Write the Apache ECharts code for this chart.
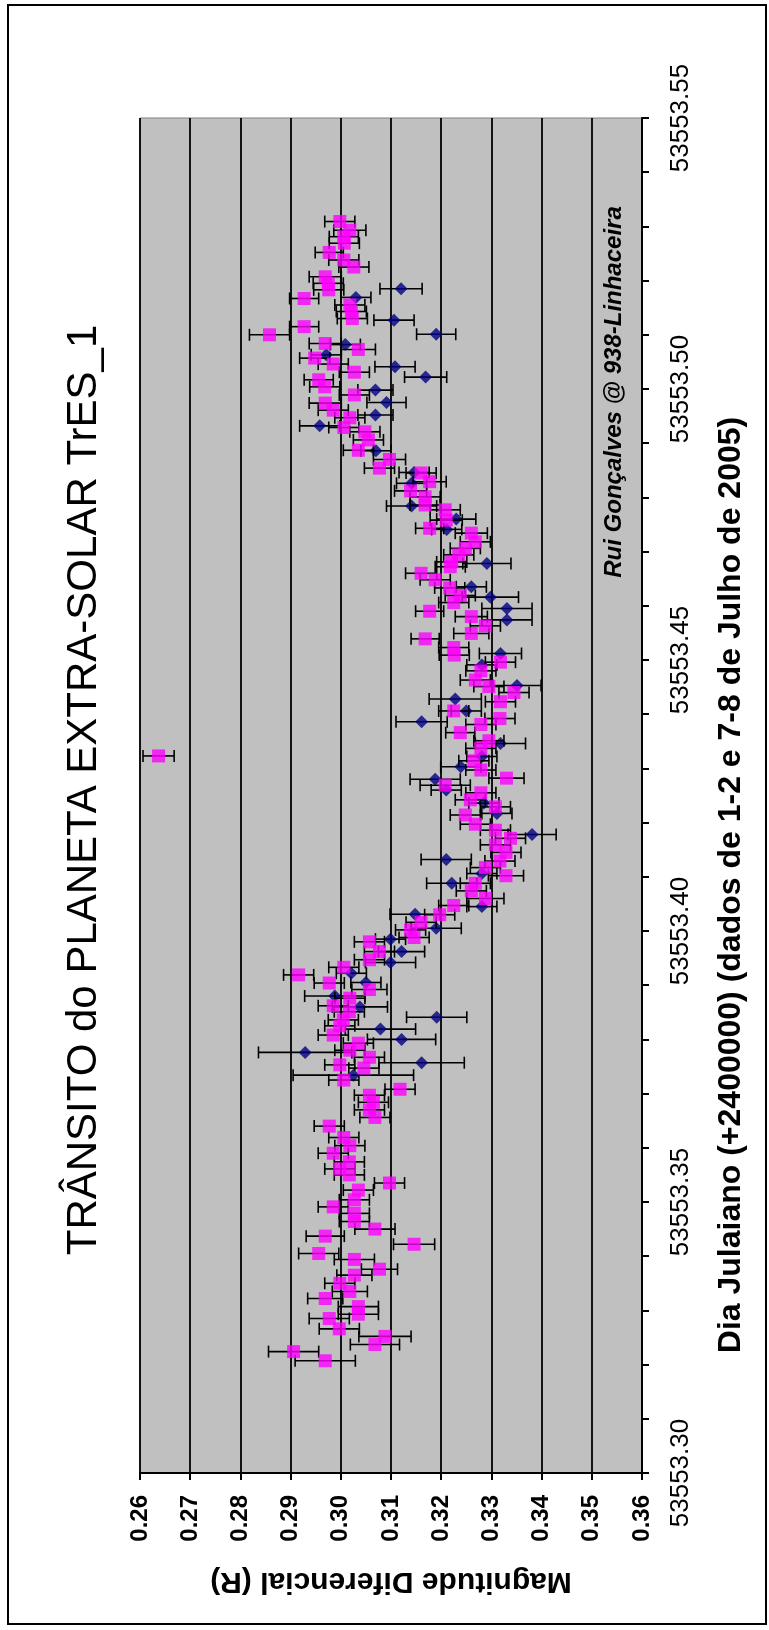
<!DOCTYPE html>
<html>
<head>
<meta charset="utf-8">
<title>Trânsito TrES-1</title>
<script src="https://cdn.jsdelivr.net/npm/echarts@6/dist/echarts.min.js"></script>
<style>
  html, body { margin: 0; padding: 0; background: #fff; }
  #chart { width: 769px; height: 1630px; }
</style>
</head>
<body>
<div id="chart"></div>
<script>
// dia juliano (+2400000) e magnitude diferencial, serie rosa (quadrados)
const pinkDay = [53553.5309, 53553.5293, 53553.5281, 53553.5269, 53553.5252, 53553.5238, 53553.5225, 53553.5207, 53553.5195, 53553.5183,
  53553.5167, 53553.5155, 53553.5143, 53553.5130, 53553.5115, 53553.5100, 53553.5084, 53553.5073, 53553.5057, 53553.5046,
  53553.5031, 53553.5017, 53553.5004, 53553.4989, 53553.4974, 53553.4961, 53553.4947, 53553.4929, 53553.4921, 53553.4906,
  53553.4887, 53553.4870, 53553.4854, 53553.4845, 53553.4829, 53553.4812, 53553.4801, 53553.4786, 53553.4777, 53553.4758,
  53553.4743, 53553.4734, 53553.4718, 53553.4706, 53553.4694, 53553.4681, 53553.4672, 53553.4660, 53553.4648, 53553.4633,
  53553.4619, 53553.4606, 53553.4590, 53553.4580, 53553.4563, 53553.4549, 53553.4539, 53553.4523, 53553.4509, 53553.4496,
  53553.4480, 53553.4463, 53553.4451, 53553.4440, 53553.4423, 53553.4406, 53553.4392, 53553.4381, 53553.4366, 53553.4351,
  53553.4337, 53553.4323, 53553.4314, 53553.4297, 53553.4282, 53553.4269, 53553.4255, 53553.4242, 53553.4229, 53553.4214,
  53553.4197, 53553.4186, 53553.4171, 53553.4159, 53553.4145, 53553.4129, 53553.4117, 53553.4102, 53553.4088, 53553.4074,
  53553.4060, 53553.4047, 53553.4030, 53553.4016, 53553.4002, 53553.3988, 53553.3980, 53553.3962, 53553.3947, 53553.3933,
  53553.3919, 53553.3904, 53553.3892, 53553.3876, 53553.3862, 53553.3851, 53553.3836, 53553.3825, 53553.3808, 53553.3793,
  53553.3780, 53553.3767, 53553.3753, 53553.3747, 53553.3725, 53553.3708, 53553.3697, 53553.3684, 53553.3670, 53553.3656,
  53553.3640, 53553.3619, 53553.3604, 53553.3590, 53553.3574, 53553.3561, 53553.3550, 53553.3535, 53553.3522, 53553.3504,
  53553.3491, 53553.3479, 53553.3464, 53553.3450, 53553.3437, 53553.3422, 53553.3405, 53553.3394, 53553.3376, 53553.3365,
  53553.3350, 53553.3335, 53553.3322, 53553.3307, 53553.3293, 53553.3285, 53553.3266, 53553.3252, 53553.3237, 53553.3224,
  53553.3207];
const pinkMag = [0.2998, 0.3018, 0.3006, 0.3007, 0.2977, 0.3006, 0.3026, 0.2969, 0.2975, 0.2976,
  0.2927, 0.3018, 0.3021, 0.3023, 0.2927, 0.2858, 0.2969, 0.3035, 0.2948, 0.2985,
  0.3027, 0.2956, 0.2968, 0.3027, 0.2969, 0.2985, 0.3018, 0.3006, 0.3048, 0.3055,
  0.3035, 0.3097, 0.3077, 0.3160, 0.3177, 0.3139, 0.3168, 0.3168, 0.3208, 0.3210,
  0.3177, 0.3260, 0.3268, 0.3248, 0.3235, 0.3221, 0.3218, 0.3160, 0.3188, 0.3217,
  0.3238, 0.3225, 0.3177, 0.3260, 0.3288, 0.3260, 0.3168, 0.3225, 0.3226, 0.3318,
  0.3279, 0.3268, 0.3295, 0.3345, 0.3318, 0.3225, 0.3317, 0.3279, 0.3238, 0.3295,
  0.3279, 0.2637, 0.3265, 0.3279, 0.3330, 0.3208, 0.3279, 0.3258, 0.3308, 0.3248,
  0.3268, 0.3308, 0.3338, 0.3308, 0.3329, 0.3317, 0.3288, 0.3329, 0.3268, 0.3260,
  0.3288, 0.3225, 0.3197, 0.3160, 0.3139, 0.3146, 0.3057, 0.3077, 0.3057, 0.3006,
  0.2916, 0.2977, 0.3057, 0.3018, 0.2985, 0.3017, 0.3005, 0.2998, 0.2985, 0.3035,
  0.3018, 0.3057, 0.2998, 0.3046, 0.3006, 0.3118, 0.3057, 0.3065, 0.3057, 0.3068,
  0.2977, 0.3006, 0.3018, 0.2985, 0.3017, 0.2998, 0.3017, 0.3097, 0.3035, 0.3027,
  0.2985, 0.3027, 0.3027, 0.3068, 0.2969, 0.3146, 0.2956, 0.3027, 0.3077, 0.3027,
  0.2998, 0.3018, 0.2969, 0.3035, 0.3035, 0.2977, 0.2997, 0.3088, 0.3068, 0.2906,
  0.2969];
const pinkErr = [0.0030, 0.0032, 0.0029, 0.0030, 0.0028, 0.0030, 0.0030, 0.0032, 0.0030, 0.0030,
  0.0029, 0.0030, 0.0030, 0.0030, 0.0029, 0.0040, 0.0032, 0.0034, 0.0030, 0.0030,
  0.0030, 0.0029, 0.0030, 0.0030, 0.0032, 0.0030, 0.0030, 0.0030, 0.0030, 0.0030,
  0.0030, 0.0032, 0.0030, 0.0030, 0.0033, 0.0032, 0.0030, 0.0030, 0.0030, 0.0032,
  0.0028, 0.0032, 0.0030, 0.0030, 0.0030, 0.0030, 0.0030, 0.0031, 0.0030, 0.0030,
  0.0030, 0.0030, 0.0028, 0.0032, 0.0030, 0.0035, 0.0028, 0.0030, 0.0030, 0.0030,
  0.0030, 0.0030, 0.0030, 0.0030, 0.0030, 0.0030, 0.0030, 0.0030, 0.0029, 0.0030,
  0.0030, 0.0031, 0.0030, 0.0030, 0.0035, 0.0050, 0.0030, 0.0030, 0.0030, 0.0030,
  0.0030, 0.0030, 0.0030, 0.0030, 0.0030, 0.0030, 0.0030, 0.0035, 0.0030, 0.0030,
  0.0037, 0.0030, 0.0030, 0.0030, 0.0030, 0.0030, 0.0030, 0.0030, 0.0030, 0.0030,
  0.0030, 0.0030, 0.0035, 0.0030, 0.0030, 0.0030, 0.0030, 0.0030, 0.0030, 0.0030,
  0.0030, 0.0030, 0.0030, 0.0030, 0.0030, 0.0030, 0.0030, 0.0030, 0.0030, 0.0030,
  0.0030, 0.0030, 0.0030, 0.0030, 0.0030, 0.0030, 0.0030, 0.0030, 0.0030, 0.0030,
  0.0030, 0.0030, 0.0030, 0.0040, 0.0038, 0.0041, 0.0040, 0.0040, 0.0036, 0.0035,
  0.0030, 0.0035, 0.0035, 0.0040, 0.0040, 0.0040, 0.0040, 0.0052, 0.0049, 0.0050,
  0.0060];

// serie azul (losangos)
const blueDay = [53553.5185, 53553.5169, 53553.5127, 53553.5101, 53553.5082, 53553.5063, 53553.5041, 53553.5022, 53553.4998, 53553.4975,
  53553.4952, 53553.4932, 53553.4886, 53553.4846, 53553.4826, 53553.4784, 53553.4760, 53553.4741, 53553.4678, 53553.4635,
  53553.4616, 53553.4595, 53553.4574, 53553.4512, 53553.4491, 53553.4453, 53553.4428, 53553.4406, 53553.4386, 53553.4346,
  53553.4322, 53553.4303, 53553.4280, 53553.4260, 53553.4236, 53553.4217, 53553.4178, 53553.4132, 53553.4106, 53553.4088,
  53553.4045, 53553.4031, 53553.4005, 53553.3985, 53553.3962, 53553.3942, 53553.3922, 53553.3905, 53553.3880, 53553.3860,
  53553.3841, 53553.3819, 53553.3800, 53553.3776, 53553.3757, 53553.3734];
const blueMag = [0.3120, 0.3030, 0.3106, 0.3190, 0.3009, 0.2971, 0.3108, 0.3169, 0.3069, 0.3091,
  0.3069, 0.2958, 0.3070, 0.3146, 0.3141, 0.3141, 0.3230, 0.3211, 0.3291, 0.3260,
  0.3298, 0.3331, 0.3331, 0.3318, 0.3281, 0.3351, 0.3228, 0.3250, 0.3161, 0.3318,
  0.3281, 0.3239, 0.3188, 0.3210, 0.3285, 0.3311, 0.3381, 0.3210, 0.3281, 0.3221,
  0.3281, 0.3148, 0.3190, 0.3099, 0.3121, 0.3099, 0.3021, 0.3050, 0.2988, 0.3038,
  0.3191, 0.3079, 0.3121, 0.2929, 0.3161, 0.3025];
const blueErr = [0.0042, 0.0030, 0.0040, 0.0039, 0.0030, 0.0030, 0.0040, 0.0042, 0.0035, 0.0039,
  0.0035, 0.0040, 0.0030, 0.0030, 0.0030, 0.0050, 0.0039, 0.0030, 0.0048, 0.0030,
  0.0056, 0.0050, 0.0050, 0.0042, 0.0030, 0.0048, 0.0052, 0.0030, 0.0051, 0.0050,
  0.0030, 0.0040, 0.0050, 0.0030, 0.0030, 0.0030, 0.0048, 0.0050, 0.0030, 0.0050,
  0.0030, 0.0050, 0.0050, 0.0030, 0.0046, 0.0050, 0.0030, 0.0030, 0.0060, 0.0055,
  0.0060, 0.0070, 0.0068, 0.0093, 0.0085, 0.0120];

const font = '"Liberation Sans", Arial, sans-serif';

function points(days, mags, errs) {
  return days.map((d, i) => [mags[i], d, errs[i]]);
}

// barra de erro horizontal com pequenos traços nas pontas
function errorBar(params, api) {
  const m = api.value(0), d = api.value(1), e = api.value(2);
  const lo = api.coord([m - e, d]);
  const hi = api.coord([m + e, d]);
  const cap = 6;
  const style = { stroke: '#000', lineWidth: 1.6 };
  return {
    type: 'group',
    children: [
      { type: 'line', shape: { x1: lo[0], y1: lo[1], x2: hi[0], y2: hi[1] }, style: style },
      { type: 'line', shape: { x1: lo[0], y1: lo[1] - cap, x2: lo[0], y2: lo[1] + cap }, style: style },
      { type: 'line', shape: { x1: hi[0], y1: hi[1] - cap, x2: hi[0], y2: hi[1] + cap }, style: style }
    ]
  };
}

const chart = echarts.init(document.getElementById('chart'), null, { renderer: 'canvas' });

const option = {
  animation: false,
  backgroundColor: '#fff',
  grid: {
    left: 140, top: 118, width: 502, height: 1355,
    show: true, backgroundColor: '#C0C0C0', borderColor: '#808080', borderWidth: 1,
    containLabel: false, outerBoundsMode: 'none'
  },
  xAxis: {
    type: 'value', position: 'bottom',
    min: 0.26, max: 0.36, interval: 0.01,
    axisLine: { show: true, onZero: false, lineStyle: { color: '#000', width: 2 } },
    axisTick: { show: true, length: 7, lineStyle: { color: '#000', width: 2 } },
    axisLabel: {
      rotate: 90, margin: 22, color: '#000', fontFamily: font, fontWeight: 'bold', fontSize: 24,
      formatter: v => v.toFixed(2)
    },
    splitLine: { show: true, lineStyle: { color: '#000', width: 1.8 } },
    name: 'Magnitude Diferencial (R)', nameLocation: 'middle', nameGap: 93, nameRotate: 180,
    nameTextStyle: { color: '#000', fontFamily: font, fontWeight: 'bold', fontSize: 30 }
  },
  yAxis: {
    type: 'value', position: 'right',
    min: 53553.30, max: 53553.55, interval: 0.01,
    axisLine: { show: true, onZero: false, lineStyle: { color: '#000', width: 2 } },
    axisTick: { show: true, length: 7, lineStyle: { color: '#000', width: 2 } },
    axisLabel: {
      rotate: 90, margin: 26, color: '#000', fontFamily: font, fontSize: 26,
      formatter: v => {
        const k = Math.round((v - 53553.30) * 100);
        return k % 5 === 0 ? v.toFixed(2) : '';
      }
    },
    splitLine: { show: false }
  },
  graphic: [
    {
      type: 'rect', silent: true, z: -1,
      shape: { x: 8, y: 5, width: 758, height: 1619 },
      style: { fill: 'none', stroke: '#000', lineWidth: 2 }
    },
    {
      type: 'text', x: 84, y: 790, rotation: Math.PI / 2,
      style: {
        text: 'TRÂNSITO do PLANETA EXTRA-SOLAR TrES_1',
        font: 'normal 42px ' + font, fill: '#000', align: 'center', verticalAlign: 'middle'
      }
    },
    {
      type: 'text', x: 731, y: 885, rotation: Math.PI / 2,
      style: {
        text: 'Dia Julaiano (+2400000) (dados de 1-2 e 7-8 de Julho de 2005)',
        font: 'bold 32px ' + font, fill: '#000', align: 'center', verticalAlign: 'middle'
      }
    },
    {
      type: 'text', x: 614, y: 392, rotation: Math.PI / 2, z: 10,
      style: {
        text: 'Rui Gonçalves @ 938-Linhaceira',
        font: 'italic bold 24px ' + font, fill: '#000', align: 'center', verticalAlign: 'middle'
      }
    }
  ],
  series: [
    {
      type: 'custom', name: 'erro azul', renderItem: errorBar, z: 2,
      encode: { x: 0, y: 1 }, data: points(blueDay, blueMag, blueErr)
    },
    {
      type: 'scatter', name: 'azul', symbol: 'diamond', symbolSize: 13, z: 3,
      itemStyle: { color: '#000080' },
      data: points(blueDay, blueMag, blueErr)
    },
    {
      type: 'custom', name: 'erro rosa', renderItem: errorBar, z: 4,
      encode: { x: 0, y: 1 }, data: points(pinkDay, pinkMag, pinkErr)
    },
    {
      type: 'scatter', name: 'rosa', symbol: 'rect', symbolSize: 13, z: 5,
      itemStyle: { color: '#FF00FF' },
      data: points(pinkDay, pinkMag, pinkErr)
    }
  ]
};

chart.setOption(option);
</script>
</body>
</html>
